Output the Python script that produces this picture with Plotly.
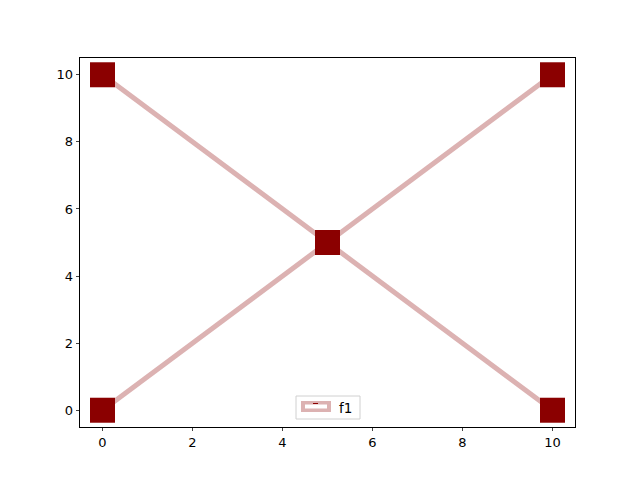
import plotly.graph_objects as go

x_vals = [0, 5, 10]
y_up = [0, 5, 10]
y_down = [10, 5, 0]
series_name = "f1"
x_ticks = [0, 2, 4, 6, 8, 10]
y_ticks = [0, 2, 4, 6, 8, 10]

line_col = "#dcb2b2"
mark_col = "#8b0000"

x_all = x_vals + [None] + x_vals
y_all = y_up + [None] + y_down

fig = go.Figure()
fig.add_trace(go.Scatter(
    x=x_all, y=y_all, mode="lines", name=series_name,
    line=dict(color=line_col, width=5), showlegend=False, connectgaps=False))
fig.add_trace(go.Scatter(
    x=x_all, y=y_all, mode="markers", name=series_name,
    marker=dict(symbol="square", size=25, color=mark_col,
                line=dict(width=0)), showlegend=False))

OFF = 8  # page body margin
L, R, T, B = 80, 575, 58, 427
W, H = R - L, B - T


def px(xp):
    return (xp - L) / W


def py(yp):
    return (B - yp) / H


shapes = [
    dict(type="rect", xref="paper", yref="paper",
         x0=px(296), x1=px(360), y0=py(419), y1=py(396),
         line=dict(color="#d0d0d0", width=1), fillcolor="rgba(255,255,255,0.8)"),
    dict(type="rect", xref="paper", yref="paper",
         x0=px(301), x1=px(331), y0=py(412), y1=py(401),
         line=dict(width=0), fillcolor=line_col),
    dict(type="rect", xref="paper", yref="paper",
         x0=px(305), x1=px(327), y0=py(408.5), y1=py(404.5),
         line=dict(width=0), fillcolor="white"),
    dict(type="line", xref="paper", yref="paper",
         x0=px(313), x1=px(318), y0=py(403.5), y1=py(403.5),
         line=dict(color=mark_col, width=1)),
]

fig.update_layout(
    width=640, height=480,
    margin=dict(l=L - OFF, r=640 - (R - OFF), t=T - OFF, b=480 - (B - OFF)),
    paper_bgcolor="white", plot_bgcolor="white",
    font=dict(family="DejaVu Sans", size=13, color="black"),
    shapes=shapes,
    annotations=[dict(xref="paper", yref="paper", x=px(337), y=py(407.5),
                      text=series_name, showarrow=False, xanchor="left",
                      yanchor="middle", font=dict(size=13.5, color="black"))],
)
fig.update_xaxes(range=[-0.5, 10.5], tickvals=x_ticks, ticks="outside", ticklen=3.5,
                 tickwidth=0.8, showline=True, linecolor="black", linewidth=0.8,
                 mirror=True, showgrid=False, zeroline=False,
                 tickfont=dict(size=13, family="DejaVu Sans"))
fig.update_yaxes(range=[-0.5, 10.5], tickvals=y_ticks, ticks="outside", ticklen=3.5,
                 tickwidth=0.8, showline=True, linecolor="black", linewidth=0.8,
                 mirror=True, showgrid=False, zeroline=False,
                 tickfont=dict(size=13, family="DejaVu Sans"))

fig.write_html("out.html")
